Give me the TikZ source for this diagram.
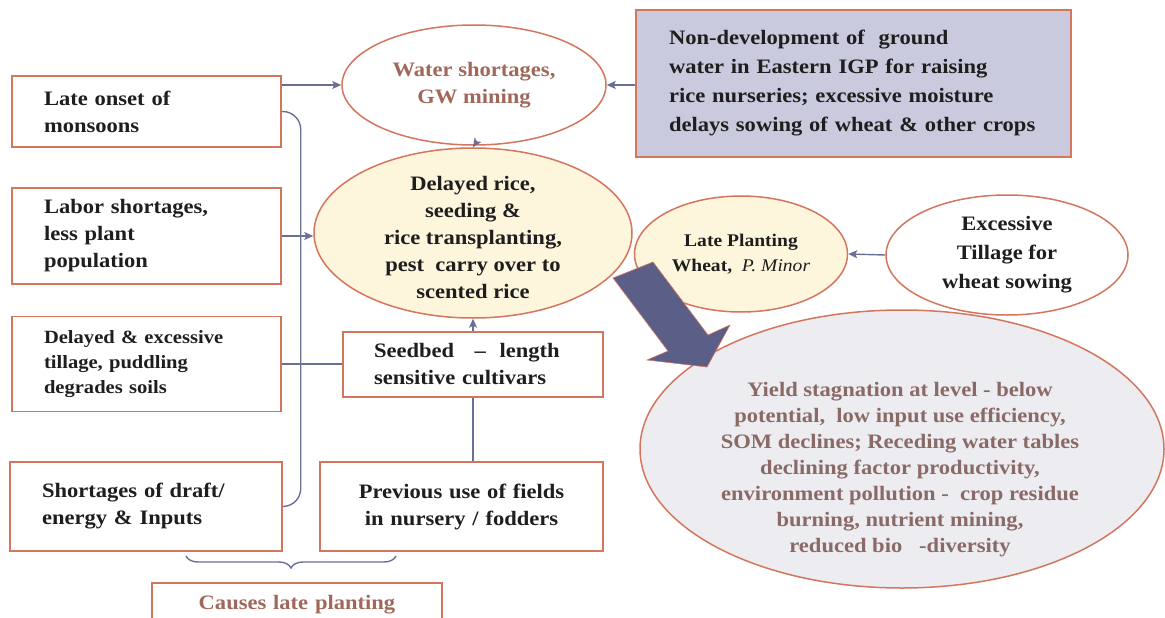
\documentclass[tikz,border=0pt]{standalone}
\usepackage{fontspec}
\setmainfont{Liberation Serif}[FakeStretch=1.1]
\usetikzlibrary{arrows.meta,shapes.geometric,decorations.pathreplacing}

\definecolor{bord}{HTML}{D4765E}
\definecolor{linkcol}{HTML}{6B6F96}
\definecolor{ricefill}{HTML}{FDF5DC}
\definecolor{igpfill}{HTML}{C9CADD}
\definecolor{yieldfill}{HTML}{ECECF1}
\definecolor{arrowfill}{HTML}{5B5E86}
\definecolor{browntxt}{HTML}{A0675B}
\definecolor{yieldtxt}{HTML}{8A6A66}
\definecolor{darktxt}{HTML}{1E1E1E}

\tikzset{
  causebox/.style={draw=bord, line width=1.5pt, rectangle, inner xsep=32pt,
    inner ysep=0pt, align=left, text=darktxt,
    font=\fontsize{20.5}{27}\selectfont\bfseries},
  bubble/.style={draw=bord, line width=1.5pt, ellipse, inner sep=0pt},
  bubbletxt/.style={align=center, text=darktxt,
    font=\fontsize{20.5}{27}\selectfont\bfseries},
  link/.style={draw=linkcol, line width=1.4pt},
}

\begin{document}
\begin{tikzpicture}[x=1pt,y=-1pt,>={Stealth[length=9pt,width=8pt,inset=2pt]}]
  \useasboundingbox (0,0) rectangle (1165,618);
  \clip (0,0) rectangle (1165,618);

  % causes on the left
  \node[causebox, text width=205pt, minimum height=71pt] (onset) at (146.5,111.5)
    {Late onset of\\monsoons};
  \node[causebox, text width=205pt, minimum height=96pt] (labor) at (146.5,236)
    {Labor shortages,\\less plant\\population};
  \node[causebox, text width=205pt, minimum height=95pt,
    font=\fontsize{18.7}{25}\selectfont\bfseries] (tillage) at (146.5,364)
    {Delayed \& excessive\\tillage, puddling\\degrades soils};
  \node[causebox, text width=208pt, minimum height=89pt] (draft) at (146,506.5)
    {Shortages of draft/\\ energy \& Inputs};
  \node[causebox, text width=198pt, inner xsep=31pt, minimum height=65pt] (seedbed) at (473,364.5)
    {Seedbed ~ -- ~length\\sensitive cultivars};
  \node[causebox, text width=219pt, align=center, minimum height=89pt] (prev) at (461.5,506.5)
    {Previous use of fields\\ in nursery / fodders};
  \node[causebox, text width=226pt, align=center, minimum height=44pt, text=browntxt] (causes) at (297,605)
    {Causes late planting};
  \node[causebox, fill=igpfill, text width=369pt, inner xsep=33pt, minimum height=147pt,
    font=\fontsize{20.5}{29}\selectfont\bfseries] (nongw) at (853.5,83.5)
    {Non-development of~ ground\\water in Eastern IGP for raising\\rice nurseries; excessive moisture\\delays sowing of wheat \& other crops};

  % ellipses
  \node[bubble, minimum width=264pt, minimum height=120pt,
    label={[bubbletxt, text=browntxt]center:{Water shortages,\\GW mining}}] (water) at (474,85) {};
  \node[bubble, fill=ricefill, minimum width=318pt, minimum height=170pt,
    label={[bubbletxt, yshift=-4pt]center:{Delayed rice,\\seeding \&\\rice transplanting,\\pest~ carry over to\\scented rice}}] (delayed) at (473,233) {};
  \node[bubble, fill=ricefill, minimum width=213pt, minimum height=116pt,
    label={[bubbletxt, font=\fontsize{17.8}{25}\selectfont\bfseries]center:{Late Planting\\Wheat,~ \textmd{\itshape P. Minor}}}] (latewheat) at (741,254) {};
  \node[bubble, minimum width=242pt, minimum height=120pt,
    label={[bubbletxt, font=\fontsize{20.5}{29}\selectfont\bfseries]center:{Excessive\\Tillage for\\wheat sowing}}] (excess) at (1007,255) {};
  \node[bubble, fill=yieldfill, minimum width=524pt, minimum height=278pt,
    label={[bubbletxt, text=yieldtxt, yshift=-21pt, xshift=-2pt,
      font=\fontsize{20.5}{26}\selectfont\bfseries]center:{Yield stagnation at level - below\\
      potential,~ low input use efficiency,\\SOM declines; Receding water tables\\
      declining factor productivity,\\environment pollution -~ crop residue\\
      burning, nutrient mining,\\reduced bio~~ -diversity}}] (yield) at (902,449) {};

  % connectors
  \draw[link,->] (onset.east |- water.west) -- (water.west);
  \draw[link,->] (nongw.west |- water.east) -- (water.east);
  \draw[link,->] (water.south) -- (delayed.north);
  \draw[link,->] (labor.east) -- (labor.east -| delayed.west);
  \draw[link,rounded corners=18pt] (onset.east) -- ++(19,0) |- (draft.east);
  \draw[link] (tillage.east) -- (tillage.east -| seedbed.west);
  \draw[link,->] (seedbed.north) -- (seedbed.north |- delayed.south);
  \draw[link] (prev.north -| seedbed.south) -- (seedbed.south);
  \draw[link,->] (excess.west) -- (latewheat.east);
  \draw[link,decorate,decoration={brace,mirror,amplitude=12pt}]
    (186,556) -- (396,556);

  % big arrow
  \filldraw[fill=arrowfill, draw=bord, line width=0.6pt]
    (613,278) -- (653,262) -- (708,335) -- (730,325) -- (707,367)
    -- (647,360) -- (668,351) -- cycle;
\end{tikzpicture}
\end{document}
